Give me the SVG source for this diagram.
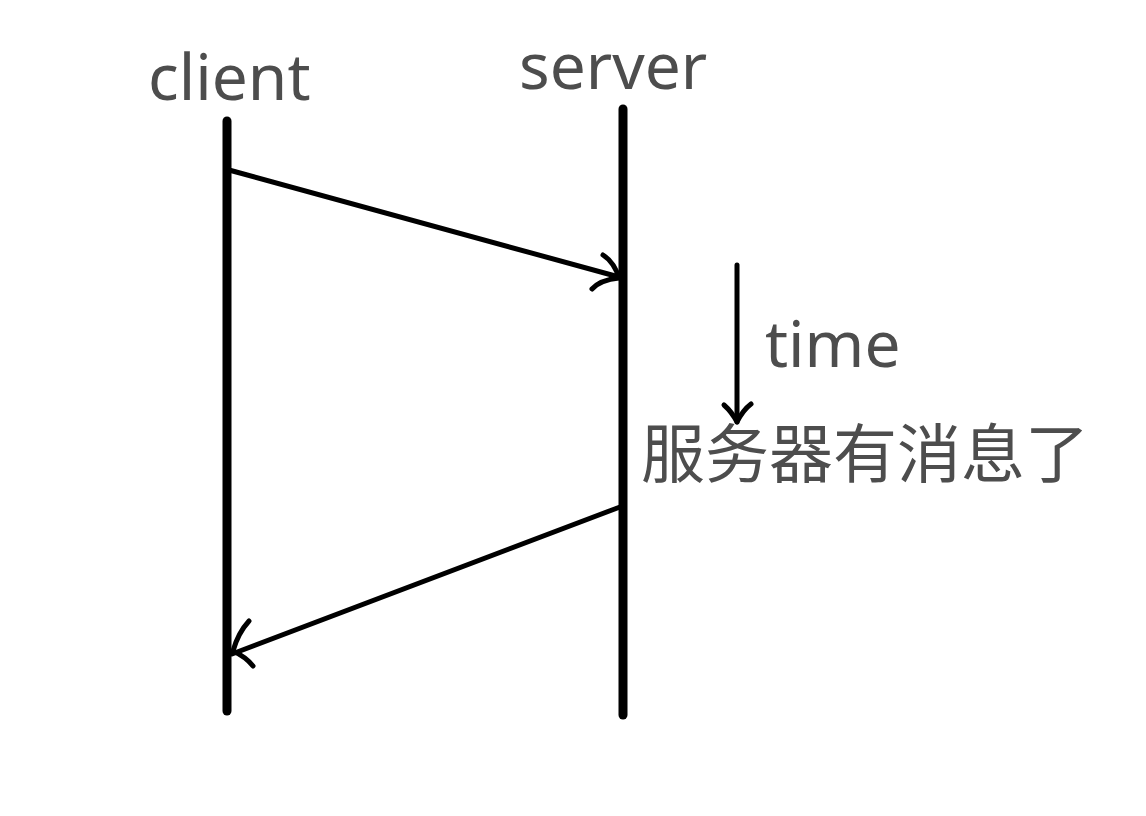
<svg xmlns="http://www.w3.org/2000/svg" width="1146" height="816" viewBox="0 0 1146 816">
<style>
.lbl{font-family:"Noto Sans","Noto Sans CJK SC",sans-serif;font-size:64px;fill:#4d4d4d}
.cjk{font-family:"Noto Sans CJK SC",sans-serif;font-size:64px;fill:#4d4d4d}
.life{stroke:#000;stroke-width:9;stroke-linecap:round;fill:none}
.msg{stroke:#000;stroke-width:5;stroke-linecap:round;stroke-linejoin:round;fill:none}
</style>
<rect width="1146" height="816" fill="#fff"/>
<g id="client">
<line class="life" x1="227" y1="121" x2="227" y2="711"/>
<text class="lbl" x="148" y="100">client</text>
</g>
<g id="server">
<line class="life" x1="623" y1="109" x2="623" y2="715"/>
<text class="lbl" x="519" y="89">server</text>
</g>
<g id="time">
<text class="lbl" x="765" y="367">time</text>
</g>
<g id="note">
<text class="cjk" x="641" y="477">服务器有消息了</text>
</g>
<g id="connectors">
<path class="msg" d="M229,170 L619,277"/>
<path class="msg" d="M603,255 Q614,262 619,278 Q600,280 592,289"/>
<path class="msg" d="M620,507 L232,654"/>
<path class="msg" d="M249,621 Q238,633 233,651 Q246,657 253,666"/>
<path class="msg" d="M737,265 L737,422"/>
<path class="msg" d="M724,405 Q732,412 737,422 Q743,410 751,404"/>
</g>
</svg>
